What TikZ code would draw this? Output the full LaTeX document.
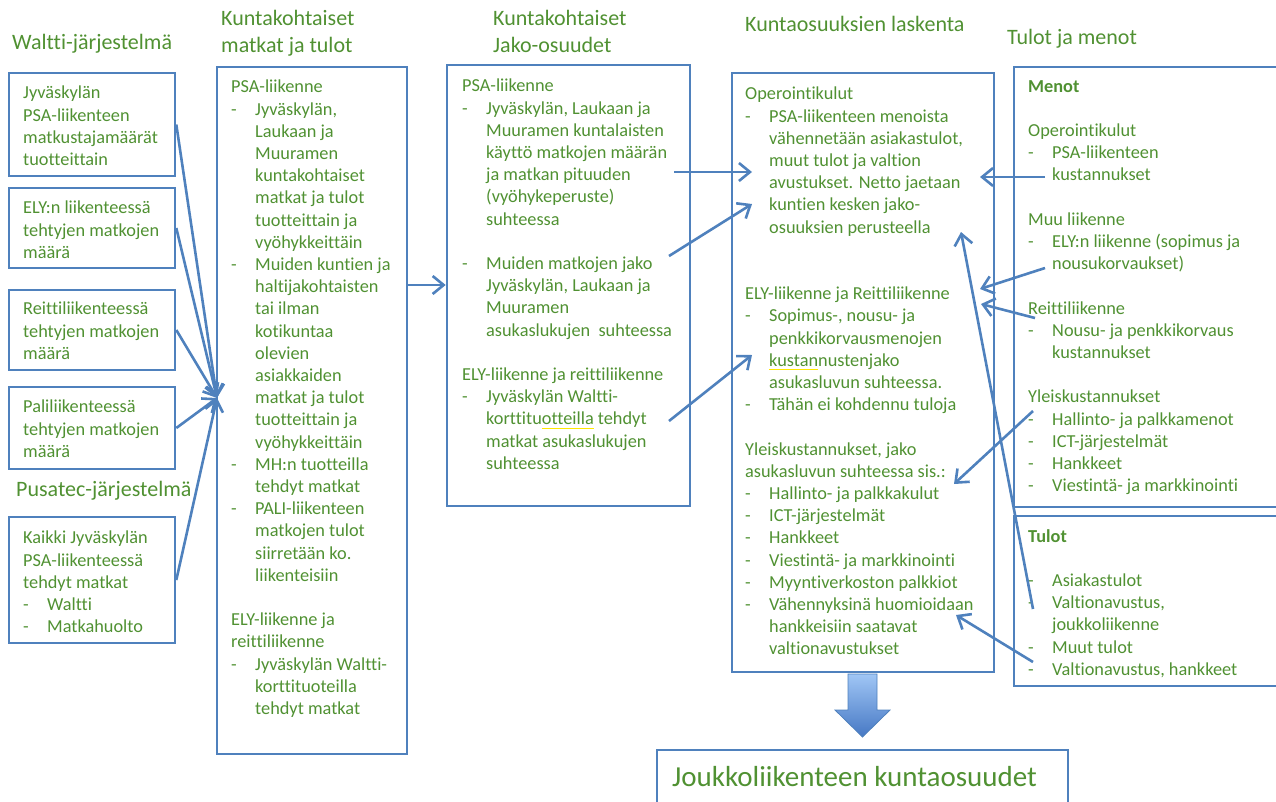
\documentclass[tikz,border=0pt]{standalone}
\usepackage{fontspec}
\setmainfont{Carlito}[Ligatures={NoCommon}]
\usetikzlibrary{arrows.meta,fit}
\definecolor{bblue}{RGB}{79,129,189}
\definecolor{tgreen}{RGB}{80,145,50}
\definecolor{yl}{RGB}{255,232,0}
\newcommand\dd{\makebox[24pt][l]{-}}
\newcommand\ii{\hspace*{24pt}}
\newcommand\yul[1]{\leavevmode\setbox0\hbox{#1}\rlap{\textcolor{yl}{\rule[-4pt]{\wd0}{1.3pt}}}\box0\relax}
\begin{document}
\begin{tikzpicture}[x=1pt,y=-1pt,
  box/.style={draw=bblue,line width=2.6pt,inner sep=0pt},
  txt/.style={text=tgreen,font=\fontsize{18.3}{22.2}\selectfont,align=left,inner sep=0pt,anchor=north west,execute at begin node={\rule{0pt}{15pt}}},
  head/.style={text=tgreen,font=\fontsize{22}{26.5}\selectfont,align=left,inner sep=0pt,anchor=north west,execute at begin node={\rule{0pt}{18pt}}},
  arr/.style={draw=bblue,line width=2.6pt,-{Straight Barb[length=11pt,width=18pt]}}]
\useasboundingbox (0,0) rectangle (1276,801);
\clip (0,0) rectangle (1276,801);

% headings
\node[head] (h1) at (12,31) {Waltti-järjestelmä};
\node[head] (h2) at (221,10.5) {Kuntakohtaiset\\matkat ja tulot};
\node[head] (h3) at (493,10.5) {Kuntakohtaiset\\Jako-osuudet};
\node[head] (h4) at (745,13) {Kuntaosuuksien laskenta};
\node[head] (h5) at (1007,26.5) {Tulot ja menot};
\node[head] (h6) at (16,478.5) {Pusatec-järjestelmä};

% boxes
\node[box,fit={(9,73) (175,176)}] (A) {};
\node[box,fit={(9,188) (175,268)}] (B) {};
\node[box,fit={(9,290) (175,370)}] (C) {};
\node[box,fit={(9,387) (175,469)}] (D) {};
\node[box,fit={(9,517) (175,643)}] (E) {};
\node[box,fit={(217,67) (407,754)}] (K2) {};
\node[box,fit={(447,65) (690,506)}] (K3) {};
\node[box,fit={(732,73) (994,672)}] (K4) {};
\node[box,fit={(1014,67) (1290,507)}] (K5) {};
\node[box,fit={(1014,516) (1290,686)}] (K6) {};
\node[box,fit={(657,750) (1068,815)}] (K7) {};

% texts
\node[txt] (tA) at (23,86) {Jyväskylän\\PSA-liikenteen\\matkustajamäärät\\tuotteittain};
\node[txt] (tB) at (23,201) {ELY:n liikenteessä\\tehtyjen matkojen\\määrä};
\node[txt] (tC) at (23,302) {Reittiliikenteessä\\tehtyjen matkojen\\määrä};
\node[txt] (tD) at (23,400) {Paliliikenteessä\\tehtyjen matkojen\\määrä};
\node[txt] (tE) at (23,531) {Kaikki Jyväskylän\\PSA-liikenteessä\\tehdyt matkat\\\dd Waltti\\\dd Matkahuolto};

\node[txt] (t2) at (231,80) {PSA-liikenne\\
\dd Jyväskylän,\\ \ii Laukaan ja\\ \ii Muuramen\\ \ii kuntakohtaiset\\ \ii matkat ja tulot\\ \ii tuotteittain ja\\ \ii vyöhykkeittäin\\
\dd Muiden kuntien ja\\ \ii haltijakohtaisten\\ \ii tai ilman\\ \ii kotikuntaa\\ \ii olevien\\ \ii asiakkaiden\\ \ii matkat ja tulot\\ \ii tuotteittain ja\\ \ii vyöhykkeittäin\\
\dd MH:n tuotteilla\\ \ii tehdyt matkat\\
\dd PALI-liikenteen\\ \ii matkojen tulot\\ \ii siirretään ko.\\ \ii liikenteisiin\\[22.2pt]
ELY-liikenne ja\\reittiliikenne\\
\dd Jyväskylän Waltti-\\ \ii korttituoteilla\\ \ii tehdyt matkat};

\node[txt] (t3) at (462,79) {PSA-liikenne\\
\dd Jyväskylän, Laukaan ja\\ \ii Muuramen kuntalaisten\\ \ii käyttö matkojen määrän\\ \ii ja matkan pituuden\\ \ii (vyöhykeperuste)\\ \ii suhteessa\\[22.2pt]
\dd Muiden matkojen jako\\ \ii Jyväskylän, Laukaan ja\\ \ii Muuramen\\ \ii asukaslukujen\ \ suhteessa\\[22.2pt]
ELY-liikenne ja reittiliikenne\\
\dd Jyväskylän Waltti-\\ \ii korttitu\yul{otteilla} tehdyt\\ \ii matkat asukaslukujen\\ \ii suhteessa};

\node[txt] (t4) at (745,87) {Operointikulut\\
\dd PSA-liikenteen menoista\\ \ii vähennetään asiakastulot,\\ \ii muut tulot ja valtion\\ \ii avustukset. Netto jaetaan\\ \ii kuntien kesken jako-\\ \ii osuuksien perusteella\\[44.4pt]
ELY-liikenne ja Reittiliikenne\\
\dd Sopimus-, nousu- ja\\ \ii penkkikorvausmenojen\\ \ii \yul{kustan}nustenjako\\ \ii asukasluvun suhteessa.\\
\dd Tähän ei kohdennu tuloja\\[22.2pt]
Yleiskustannukset, jako\\asukasluvun suhteessa sis.:\\
\dd Hallinto- ja palkkakulut\\
\dd ICT-järjestelmät\\
\dd Hankkeet\\
\dd Viestintä- ja markkinointi\\
\dd Myyntiverkoston palkkiot\\
\dd Vähennyksinä huomioidaan\\ \ii hankkeisiin saatavat\\ \ii valtionavustukset};

\node[txt] (t5) at (1028,80) {\textbf{Menot}\\[22.2pt]
Operointikulut\\
\dd PSA-liikenteen\\ \ii kustannukset\\[22.2pt]
Muu liikenne\\
\dd ELY:n liikenne (sopimus ja\\ \ii nousukorvaukset)\\[22.2pt]
Reittiliikenne\\
\dd Nousu- ja penkkikorvaus\\ \ii kustannukset\\[22.2pt]
Yleiskustannukset\\
\dd Hallinto- ja palkkamenot\\
\dd ICT-järjestelmät\\
\dd Hankkeet\\
\dd Viestintä- ja markkinointi};

\node[txt] (t6) at (1028,529) {\textbf{Tulot}\\[22.2pt]
\dd Asiakastulot\\
\dd Valtionavustus,\\ \ii joukkoliikenne\\
\dd Muut tulot\\
\dd Valtionavustus, hankkeet};

\node[text=tgreen,font=\fontsize{29}{34}\selectfont,inner sep=0pt,anchor=base west] (t7) at (672,786) {Joukkoliikenteen kuntaosuudet};

% connectors
\coordinate (tipL) at (217,398);
\foreach \s in {A,B,C,D,E} \draw[arr] (\s.east) -- (tipL);
\coordinate (m23) at (0,285);
\draw[arr] (K2.east |- m23) -- (K3.west |- m23);

\coordinate (s31) at (674,172); \coordinate (e31) at (752,172);
\coordinate (s32) at (669,256); \coordinate (e32) at (752,204);
\coordinate (s33) at (669,421); \coordinate (e33) at (752,355);
\draw[arr] (s31) -- (e31);
\draw[arr] (s32) -- (e32);
\draw[arr] (s33) -- (e33);

\coordinate (s51) at (1045,177); \coordinate (e51) at (980,177);
\coordinate (s52) at (1045,268); \coordinate (e52) at (980,289);
\coordinate (s53) at (1035,318); \coordinate (e53) at (981,304);
\coordinate (s54) at (1033,411); \coordinate (e54) at (954,484);
\coordinate (s61) at (1033,609); \coordinate (e61) at (961,232);
\coordinate (s62) at (1033,662); \coordinate (e62) at (956,615);
\draw[arr] (s51) -- (e51);
\draw[arr] (s52) -- (e52);
\draw[arr] (s53) -- (e53);
\draw[arr] (s54) -- (e54);
\draw[arr] (s61) -- (e61);
\draw[arr] (s62) -- (e62);

% big down arrow
\shade[top color={rgb,255:red,160;green,198;blue,245},bottom color={rgb,255:red,70;green,120;blue,196},draw=bblue,line width=0.8pt]
  (848,674) -- (877,674) -- (877,710) -- (890,710) -- (862.5,737) -- (835,710) -- (848,710) -- cycle;
\end{tikzpicture}
\end{document}
